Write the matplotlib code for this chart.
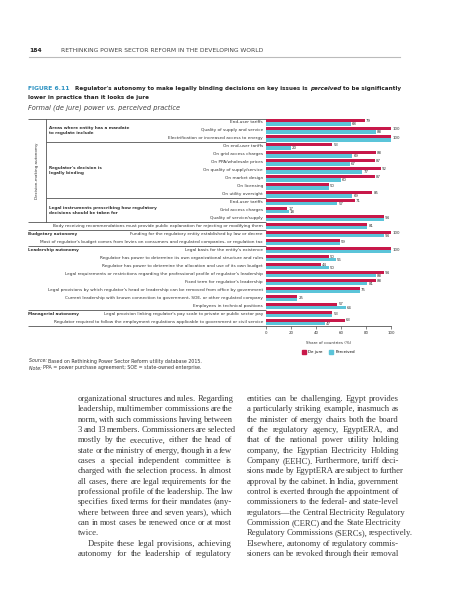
import numpy as np
import matplotlib
matplotlib.use("Agg")
import matplotlib.pyplot as plt
import matplotlib.transforms as mtransforms
from matplotlib.patches import Patch

# ---- data ----
categories = [
    "End-user tariffs",
    "Quality of supply and service",
    "Electrification or increased access to energy",
    "On end-user tariffs",
    "On grid access charges",
    "On PPA/wholesale prices",
    "On quality of supply/service",
    "On market design",
    "On licensing",
    "On utility oversight",
    "End-user tariffs",
    "Grid access charges",
    "Quality of service/supply",
    "Body receiving recommendations must provide public explanation for rejecting or modifying them",
    "Funding for the regulatory entity established by law or decree",
    "Most of regulator's budget comes from levies on consumers and regulated companies, or regulation tax",
    "Legal basis for the entity's existence",
    "Regulator has power to determine its own organizational structure and rules",
    "Regulator has power to determine the allocation and use of its own budget",
    "Legal requirements or restrictions regarding the professional profile of regulator's leadership",
    "Fixed term for regulator's leadership",
    "Legal provisions by which regulator's head or leadership can be removed from office by government",
    "Current leadership with known connection to government, SOE, or other regulated company",
    "Employees in technical positions",
    "Legal provision linking regulator's pay scale to private or public sector pay",
    "Regulator required to follow the employment regulations applicable to government or civil service",
]
de_jure = [79, 100, 100, 53, 88, 87, 92, 87, 50, 85, 71, 17, 94, 81, 100, 59,
           100, 50, 44, 94, 88, 75, 25, 57, 53, 63]
perceived = [68, 88, 100, 20, 69, 67, 77, 60, 50, 69, 57, 18, 94, 81, 94, 59,
             100, 56, 50, 88, 81, 75, 25, 64, 53, 47]

# sub-groups inside decision-making autonomy: (label, first row, end row)
sub_groups = [
    ("Areas where entity has a mandate\nto regulate include", 0, 3),
    ("Regulator's decision is\nlegally binding", 3, 10),
    ("Legal instruments prescribing how regulatory\ndecisions should be taken for", 10, 13),
]
sections = [("Budgetary autonomy", 14), ("Leadership autonomy", 16), ("Managerial autonomy", 24)]

body_left = [
    "organizational structures and rules. Regarding",
    "leadership, multimember commissions are the",
    "norm, with such commissions having between",
    "3 and 13 members. Commissioners are selected",
    "mostly by the executive, either the head of",
    "state or the ministry of energy, though in a few",
    "cases a special independent committee is",
    "charged with the selection process. In almost",
    "all cases, there are legal requirements for the",
    "professional profile of the leadership. The law",
    "specifies fixed terms for their mandates (any-",
    "where between three and seven years), which",
    "can in most cases be renewed once or at most",
    "twice.",
    "Despite these legal provisions, achieving",
    "autonomy for the leadership of regulatory",
]
body_right = [
    "entities can be challenging. Egypt provides",
    "a particularly striking example, inasmuch as",
    "the minister of energy chairs both the board",
    "of the regulatory agency, EgyptERA, and",
    "that of the national power utility holding",
    "company, the Egyptian Electricity Holding",
    "Company (EEHC). Furthermore, tariff deci-",
    "sions made by EgyptERA are subject to further",
    "approval by the cabinet. In India, government",
    "control is exerted through the appointment of",
    "commissioners to the federal- and state-level",
    "regulators\u2014the Central Electricity Regulatory",
    "Commission (CERC) and the State Electricity",
    "Regulatory Commissions (SERCs), respectively.",
    "Elsewhere, autonomy of regulatory commis-",
    "sioners can be revoked through their removal",
]

RED = "#C8184A"
CYAN = "#5BC4D9"
TEAL = "#2E93C2"
DARK = "#333333"
LINE = "#555555"

W, H = 457, 600
fig = plt.figure(figsize=(W / 100, H / 100), dpi=100)
rend = fig.canvas.get_renderer()


def fx(px):
    return px / W


def fy(py):
    return 1 - py / H


# ---- page header ----
fig.text(fx(29), fy(51), "184", fontsize=4.3, fontweight="bold", color="#222", va="center")
fig.text(fx(61), fy(51), "RETHINKING POWER SECTOR REFORM IN THE DEVELOPING WORLD",
         fontsize=4.3, color="#444", va="center")
fig.add_artist(plt.Line2D([fx(29), fx(400)], [fy(57), fy(57)], color="#bbbbbb", lw=0.8))

# ---- title ----
def runs(x, y, parts, size):
    for s, props in parts:
        t = fig.text(fx(x), fy(y), s, fontsize=size, va="center", **props)
        x += t.get_window_extent(rend).width


runs(28, 88, [("FIGURE 6.11", dict(color=TEAL, fontweight="bold"))], 4.3)
runs(75, 88, [("Regulator's autonomy to make legally binding decisions on key issues is ",
               dict(color="#222", fontweight="bold")),
              ("perceived", dict(color="#222", fontweight="bold", style="italic")),
              (" to be significantly", dict(color="#222", fontweight="bold"))], 4.05)
fig.text(fx(28), fy(97), "lower in practice than it looks de jure", fontsize=4.05,
         fontweight="bold", color="#222", va="center")
fig.text(fx(28), fy(108), "Formal (de jure) power vs. perceived practice", fontsize=4.8,
         style="italic", color="#444", va="center")

# ---- chart ----
top, bot = 118.5, 326
ax = fig.add_axes([fx(266), fy(bot), fx(391) - fx(266), (bot - top) / H])
n = len(categories)
rows = np.arange(n) + 0.5
off = 0.2
bh = 0.40
ax.barh(rows - off, de_jure, height=bh, color=RED, zorder=2)
ax.barh(rows + off, perceived, height=bh, color=CYAN, zorder=2)
ax.set_xlim(0, 100)
ax.set_ylim(n, 0)
ax.set_yticks([])
ax.set_xticks(range(0, 101, 20))
ax.tick_params(axis="x", length=2.2, width=0.5, color=LINE, labelsize=2.9,
               labelcolor=DARK, pad=1.5)
for s in ["top", "right", "left"]:
    ax.spines[s].set_visible(False)
ax.spines["bottom"].set_color(LINE)
ax.spines["bottom"].set_linewidth(0.6)

lab = dict(fontsize=2.8, color=DARK, va="center", ha="left",
           textcoords="offset points")
for i in range(n):
    a, b = de_jure[i], perceived[i]
    if a == b:
        ax.annotate(str(a), (a, rows[i]), xytext=(0.8, 0), **lab)
    else:
        ax.annotate(str(a), (a, rows[i] - off), xytext=(0.8, 0), **lab)
        ax.annotate(str(b), (b, rows[i] + off), xytext=(0.8, 0), **lab)

tr = mtransforms.blended_transform_factory(fig.transFigure, ax.transData)
for i, c in enumerate(categories):
    ax.text(fx(263), rows[i], c, transform=tr, ha="right", va="center",
            fontsize=3.1, color=DARK, clip_on=False)


def hline(yv, x0):
    ax.plot([fx(x0), fx(266)], [yv, yv], transform=tr, color=LINE, lw=0.6,
            clip_on=False, solid_capstyle="butt")


for yv in [0, 13, 14, 16, 24, n]:
    hline(yv, 28)
for yv in [3, 10]:
    hline(yv, 46)
ax.plot([fx(46), fx(46)], [0, 13], transform=tr, color=LINE, lw=0.6, clip_on=False)

ax.text(fx(37), 6.5, "Decision-making autonomy", transform=tr, rotation=90,
        ha="center", va="center", fontsize=3.0, color=DARK, clip_on=False)
for txt, a, b in sub_groups:
    ax.text(fx(49), (a + b) / 2, txt, transform=tr, ha="left", va="center",
            fontsize=3.0, fontweight="bold", color=DARK, linespacing=1.4, clip_on=False)
for txt, r in sections:
    ax.text(fx(28), r + 0.5, txt, transform=tr, ha="left", va="center",
            fontsize=3.0, fontweight="bold", color=DARK, clip_on=False)

fig.text(fx(328.5), fy(343), "Share of countries (%)", fontsize=2.9, color=DARK,
         ha="center", va="center")
fig.legend(handles=[Patch(color=RED, label="De jure"), Patch(color=CYAN, label="Perceived")],
           loc="center", bbox_to_anchor=(fx(328.5), fy(352)), ncol=2, frameon=False,
           fontsize=2.9, handlelength=1.1, handleheight=1.1, handletextpad=0.5,
           columnspacing=1.5, borderpad=0)

# ---- source / note ----
runs(29, 361, [("Source: ", dict(style="italic", color=DARK)),
               ("Based on Rethinking Power Sector Reform utility database 2015.",
                dict(color=DARK))], 3.45)
runs(29, 368, [("Note: ", dict(style="italic", color=DARK)),
               ("PPA = power purchase agreement; SOE = state-owned enterprise.",
                dict(color=DARK))], 3.45)

# ---- body text, justified ----
BODY = 6.2
SERIF = "Liberation Serif"


def body_line(text, x0, x1, y, indent=0, justify=True):
    words = text.split()
    objs = [fig.text(0, fy(y), w, fontsize=BODY, family=SERIF, color="#3a3a3a",
                     va="center") for w in words]
    widths = [o.get_window_extent(rend).width for o in objs]
    start = x0 + indent
    space = BODY * 100 / 72 * 0.25
    if justify and len(words) > 1:
        gap = (x1 - start - sum(widths)) / (len(words) - 1)
        gap = max(gap, space * 0.5)
    else:
        gap = space
    x = start
    for o, w in zip(objs, widths):
        o.set_x(fx(x))
        x += w + gap


pitch = 10.33
for k, line in enumerate(body_left):
    body_line(line, 78, 232, 399 + k * pitch,
              indent=10 if line.startswith("Despite") else 0,
              justify=(line != "twice."))
for k, line in enumerate(body_right):
    body_line(line, 247, 399, 399 + k * pitch)

fig.savefig("out.png", dpi=100)
